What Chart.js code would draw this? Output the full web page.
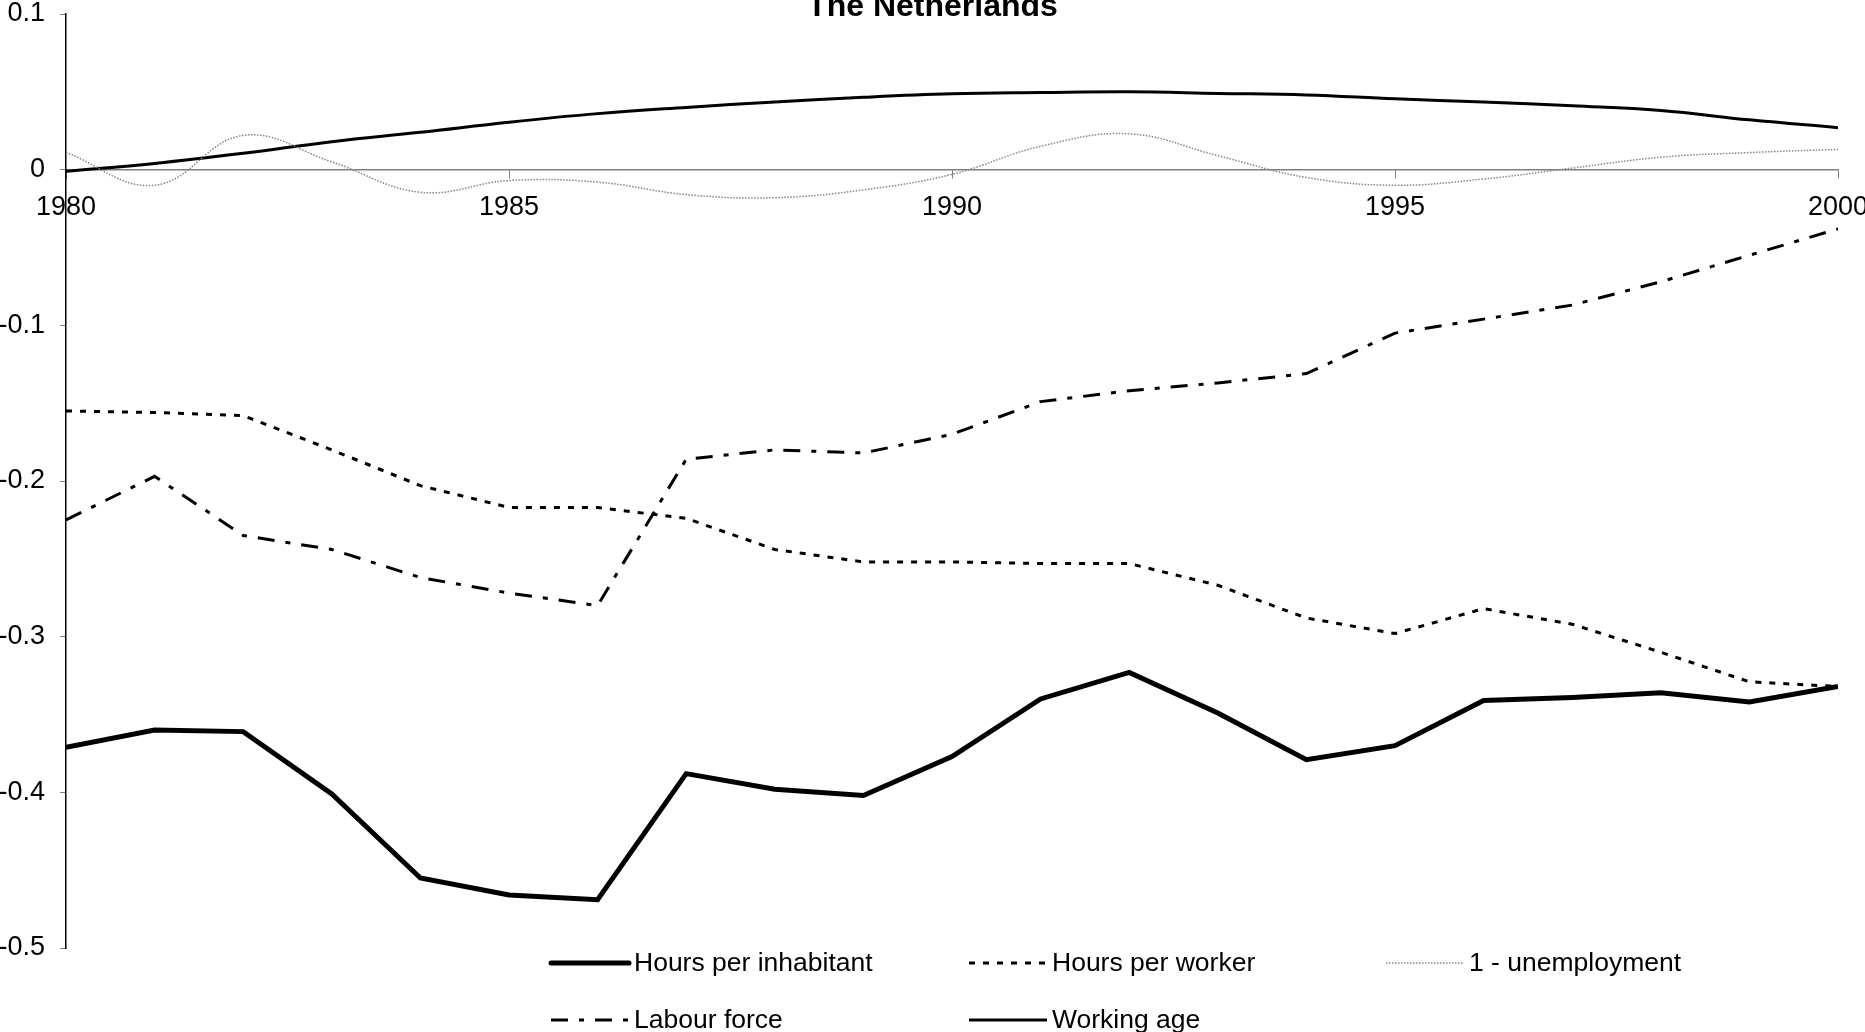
<!DOCTYPE html>
<html>
<head>
<meta charset="utf-8">
<title>The Netherlands</title>
<script src="https://cdn.jsdelivr.net/npm/chart.js@4.4.1/dist/chart.umd.min.js"></script>
<style>
  body { margin: 0; background: #fff; }
  #chart { display: block; }
</style>
</head>
<body>
<canvas id="chart" width="1865" height="1032"></canvas>
<script>
// Years on the x axis
const years = [1980, 1981, 1982, 1983, 1984, 1985, 1986, 1987, 1988, 1989, 1990,
  1991, 1992, 1993, 1994, 1995, 1996, 1997, 1998, 1999, 2000];

// Series values
const hoursPerInhabitant = [-0.371, -0.360, -0.361, -0.401, -0.455, -0.466, -0.469, -0.388, -0.398, -0.402, -0.377,
  -0.340, -0.323, -0.349, -0.379, -0.370, -0.341, -0.339, -0.336, -0.342, -0.332];
const hoursPerWorker = [-0.155, -0.156, -0.158, -0.180, -0.203, -0.217, -0.217, -0.224, -0.244, -0.252, -0.252,
  -0.253, -0.253, -0.267, -0.288, -0.298, -0.282, -0.292, -0.310, -0.329, -0.332];
const unemployment = [0.011, -0.010, 0.022, 0.005, -0.0145, -0.007, -0.008, -0.016, -0.018, -0.013, -0.003,
  0.015, 0.023, 0.009, -0.005, -0.010, -0.006, 0.001, 0.008, 0.011, 0.013];
const labourForce = [-0.225, -0.197, -0.235, -0.244, -0.262, -0.272, -0.280, -0.186, -0.180, -0.182, -0.170,
  -0.149, -0.142, -0.137, -0.131, -0.105, -0.096, -0.087, -0.072, -0.055, -0.038];
const workingAge = [-0.001, 0.004, 0.0105, 0.018, 0.024, 0.0305, 0.036, 0.040, 0.0435, 0.0465, 0.0487,
  0.0495, 0.050, 0.049, 0.048, 0.0455, 0.0435, 0.041, 0.038, 0.032, 0.027];

// Axis ticks
const yTicks = [0.1, 0, -0.1, -0.2, -0.3, -0.4, -0.5];
const xTickStep = 5;

const FONT = '"Liberation Sans", Arial, sans-serif';

function points(values) {
  return years.map((year, i) => ({ x: year, y: values[i] }));
}

// Title drawn on the canvas, partly cut at the top like the original
const titlePlugin = {
  id: "titleText",
  afterDraw(chart) {
    const ctx = chart.ctx;
    ctx.save();
    ctx.font = "bold 32px " + FONT;
    ctx.fillStyle = "#000";
    ctx.textAlign = "center";
    ctx.textBaseline = "alphabetic";
    ctx.fillText("The Netherlands", chart.width / 2, 16);
    ctx.restore();
  },
};

// Legend in fixed columns below the plot
const legendPlugin = {
  id: "gridLegend",
  afterDraw(chart) {
    const ctx = chart.ctx;
    const cols = [551, 969, 1386];
    const rows = [963, 1020];
    const sampleLen = 78;
    ctx.save();
    ctx.font = "26.5px " + FONT;
    ctx.textBaseline = "middle";
    ctx.textAlign = "left";
    chart.data.datasets.forEach((ds, i) => {
      const x = cols[i % 3];
      const y = rows[Math.floor(i / 3)];
      ctx.beginPath();
      ctx.strokeStyle = ds.borderColor;
      ctx.lineWidth = ds.borderWidth;
      ctx.setLineDash(ds.borderDash || []);
      ctx.lineCap = ds.borderWidth > 4 ? "round" : "butt";
      ctx.moveTo(x, y);
      ctx.lineTo(x + sampleLen, y);
      ctx.stroke();
      ctx.setLineDash([]);
      ctx.fillStyle = "#000";
      ctx.fillText(ds.label, x + sampleLen + 5, y + 1);
    });
    ctx.restore();
  },
};

new Chart(document.getElementById("chart"), {
  type: "line",
  data: {
    datasets: [
      {
        label: "Hours per inhabitant",
        data: points(hoursPerInhabitant),
        borderColor: "#000",
        borderWidth: 5,
        tension: 0,
      },
      {
        label: "Hours per worker",
        data: points(hoursPerWorker),
        borderColor: "#000",
        borderWidth: 3,
        borderDash: [6, 8],
        tension: 0,
      },
      {
        label: "1 - unemployment",
        data: points(unemployment),
        borderColor: "#858585",
        borderWidth: 1.5,
        borderDash: [1.5, 1.5],
        tension: 0.4,
      },
      {
        label: "Labour force",
        data: points(labourForce),
        borderColor: "#000",
        borderWidth: 3,
        borderDash: [17, 11, 5, 11],
        tension: 0,
      },
      {
        label: "Working age",
        data: points(workingAge),
        borderColor: "#000",
        borderWidth: 3,
        tension: 0.4,
      },
    ],
  },
  options: {
    responsive: false,
    animation: false,
    devicePixelRatio: 1,
    elements: { point: { radius: 0 } },
    layout: { padding: { top: 14, right: 27, bottom: 84, left: 0 } },
    plugins: {
      legend: { display: false },
      tooltip: { enabled: false },
    },
    scales: {
      x: {
        type: "linear",
        position: { y: 0 },
        min: years[0],
        max: years[years.length - 1],
        ticks: {
          stepSize: xTickStep,
          autoSkip: false,
          maxRotation: 0,
          padding: 14,
          color: "#000",
          font: { family: FONT, size: 27 },
          callback: (v) => String(v),
        },
        grid: { drawOnChartArea: false, drawTicks: true, tickLength: 8, color: "#7f7f7f" },
        border: { color: "#7f7f7f", width: 1.5 },
        afterFit(scale) {
          scale.paddingLeft = 0;
          scale.paddingRight = 0;
        },
      },
      y: {
        type: "linear",
        position: "left",
        min: yTicks[yTicks.length - 1],
        max: yTicks[0],
        afterBuildTicks(scale) {
          scale.ticks = yTicks.map((v) => ({ value: v }));
        },
        ticks: {
          padding: 15,
          color: "#000",
          font: { family: FONT, size: 27 },
          callback: (v) => String(parseFloat(Number(v).toFixed(1))),
        },
        grid: { drawOnChartArea: false, drawTicks: true, tickLength: 6, color: "#7f7f7f" },
        border: { color: "#000", width: 1.5 },
        afterFit(scale) {
          scale.width = 66;
          scale.paddingTop = 0;
          scale.paddingBottom = 0;
        },
      },
    },
  },
  plugins: [titlePlugin, legendPlugin],
});
</script>
</body>
</html>
